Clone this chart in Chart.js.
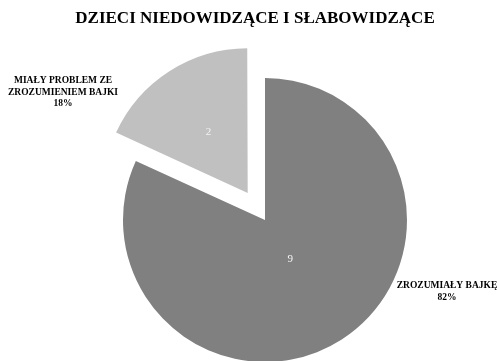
<!DOCTYPE html>
<html><head><meta charset="utf-8">
<script src="https://cdn.jsdelivr.net/npm/chart.js@4/dist/chart.umd.min.js"></script>
<style>html,body{margin:0;padding:0;background:#fff}#wrap{width:497px;height:361px}</style>
</head><body><div id="wrap"><canvas id="c"></canvas></div>
<script>
const title = 'DZIECI NIEDOWIDZĄCE I SŁABOWIDZĄCE';
const categories = ['ZROZUMIAŁY BAJKĘ', 'MIAŁY PROBLEM ZE ZROZUMIENIEM BAJKI'];
const labelLines = [['ZROZUMIAŁY BAJKĘ'], ['MIAŁY PROBLEM ZE', 'ZROZUMIENIEM BAJKI']];
const values = [9, 2];
const colors = ['#808080', '#c0c0c0'];
const offsets = [0, 128];

const serif = '"Liberation Serif", "DejaVu Serif", serif';

const labelPlugin = {
  id: 'pieLabels',
  afterDatasetsDraw(chart) {
    const ctx = chart.ctx;
    const meta = chart.getDatasetMeta(0);
    const total = values.reduce((a, b) => a + b, 0);
    const inFrac = [0.33, 0.51];
    const outPos = [{x: 447, y: 286}, {x: 63, y: 81}];
    ctx.save();
    ctx.textAlign = 'center';
    ctx.textBaseline = 'middle';
    ctx.fillStyle = '#000';
    ctx.font = 'bold 17px ' + serif;
    ctx.fillText(title, 255, 19);
    meta.data.forEach((arc, i) => {
      const p = arc.getProps(['x', 'y', 'startAngle', 'endAngle', 'outerRadius']);
      const mid = (p.startAngle + p.endAngle) / 2;
      const off = offsets[i] / 4;
      const cx = p.x + Math.cos(mid) * off;
      const cy = p.y + Math.sin(mid) * off;
      const r = p.outerRadius * inFrac[i];
      ctx.font = '11px ' + serif;
      ctx.fillStyle = '#f4f4f4';
      ctx.fillText(String(values[i]), cx + Math.cos(mid) * r, cy + Math.sin(mid) * r);
      ctx.font = 'bold 9.5px ' + serif;
      ctx.fillStyle = '#000';
      const lines = labelLines[i].concat([Math.round(values[i] / total * 100) + '%']);
      lines.forEach((t, k) => ctx.fillText(t, outPos[i].x, outPos[i].y + k * 11.5));
    });
    ctx.restore();
  }
};

new Chart(document.getElementById('c'), {
  type: 'pie',
  data: {
    labels: categories,
    datasets: [{
      data: values,
      backgroundColor: colors,
      borderWidth: 0,
      offset: offsets,
      hoverOffset: 0
    }]
  },
  options: {
    responsive: true,
    maintainAspectRatio: false,
    animation: false,
    radius: 142,
    layout: {padding: {left: 33, right: 0, top: 79, bottom: 0}},
    plugins: {
      legend: {display: false},
      tooltip: {enabled: false},
      title: {display: false}
    }
  },
  plugins: [labelPlugin]
});
</script>
</body></html>
